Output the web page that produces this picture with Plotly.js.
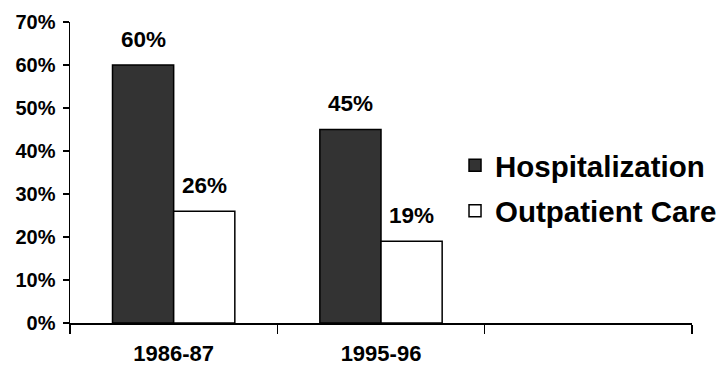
<!DOCTYPE html>
<html>
<head>
<meta charset="utf-8">
<script src="https://cdn.plot.ly/plotly-3.0.1.min.js"></script>
<style>html,body{margin:0;padding:0;background:#fff}#chart{width:721px;height:371px}</style>
</head>
<body>
<div id="chart"></div>
<script>
const categories = ["1986-87", "1995-96", " "];
const periods = ["1986-87", "1995-96"];
const hospitalization = [0.60, 0.45];
const outpatientCare = [0.26, 0.19];
const seriesNames = ["Hospitalization", "Outpatient Care"];
const yTickVals = [0, 0.1, 0.2, 0.3, 0.4, 0.5, 0.6, 0.7];
const yTickText = ["0%", "10%", "20%", "30%", "40%", "50%", "60%", "70%"];

const FONT = "Liberation Sans, Arial, sans-serif";
const barLine = {color: "#000", width: 1.5};

const traces = [
  {type: "bar", name: seriesNames[0], x: periods, y: hospitalization, legendgroup: "a",
   marker: {color: "#333333", line: barLine}, hoverinfo: "skip"},
  {type: "bar", name: seriesNames[1], x: periods, y: outpatientCare, legendgroup: "b",
   marker: {color: "#ffffff", line: barLine}, hoverinfo: "skip"}
];

const bargap = 0.41;
const half = (1 - bargap) / 4;
const annotations = [];
[hospitalization, outpatientCare].forEach((vals, s) => {
  vals.forEach((v, i) => {
    annotations.push({
      x: i + (s === 0 ? -half : half), y: v, xref: "x", yref: "y",
      text: "<b>" + Math.round(v * 100) + "%</b>", showarrow: false,
      yanchor: "middle", yshift: 26,
      font: {family: FONT, size: 22.5, color: "#000"}
    });
  });
});

const layout = {
  width: 721, height: 371,
  margin: {l: 70, r: 29, t: 22, b: 48, autoexpand: false},
  paper_bgcolor: "#fff", plot_bgcolor: "#fff",
  font: {family: FONT, color: "#000"},
  barmode: "group", bargap: bargap, bargroupgap: 0,
  showlegend: true,
  legend: {x: 0.619, y: 0.448, xanchor: "left", yanchor: "middle",
           font: {family: FONT, size: 29.5, color: "#000", weight: "bold"},
           bgcolor: "rgba(0,0,0,0)", tracegroupgap: 4, itemwidth: 30},
  xaxis: {type: "category", categoryorder: "array", categoryarray: categories,
          range: [-0.5, 2.5], tickson: "boundaries", ticks: "outside", ticklen: 9,
          tickwidth: 1.5, tickcolor: "#000", showline: true, linecolor: "#000",
          linewidth: 1.5, showgrid: false, zeroline: false, ticklabelstandoff: 10,
          tickfont: {family: FONT, size: 22, color: "#000", weight: "bold"}},
  yaxis: {range: [0, 0.7], tickvals: yTickVals, ticktext: yTickText,
          ticks: "outside", ticklen: 6, tickwidth: 1.5, tickcolor: "#000",
          showline: true, linecolor: "#000", linewidth: 1.5, showgrid: false,
          zeroline: false, ticklabelstandoff: 3,
          tickfont: {family: FONT, size: 20, color: "#000", weight: "bold"}},
  annotations: annotations
};

Plotly.newPlot("chart", traces, layout, {displayModeBar: false, staticPlot: true});
</script>
</body>
</html>
